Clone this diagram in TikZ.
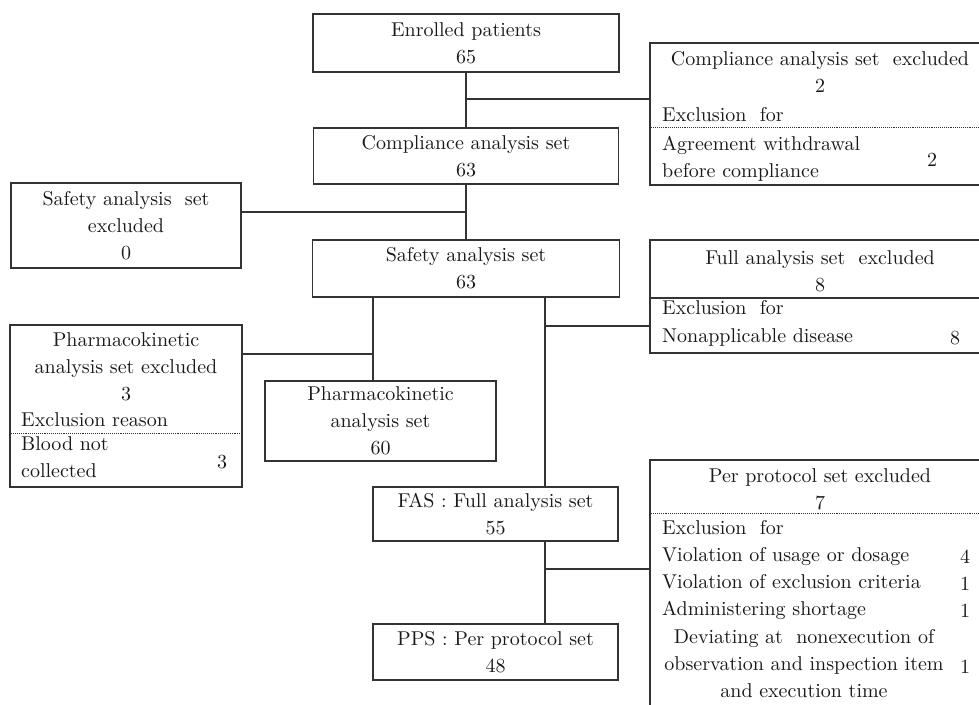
\documentclass[tikz,border=0pt]{standalone}
\usepackage{fontspec}
\setmainfont{lmroman10-regular.otf}
\usepackage{tikz}
\usetikzlibrary{positioning}

\begin{document}
\begin{tikzpicture}[x=1pt,y=-1pt,
box/.style={draw=black!80,line width=1.3pt,rectangle,inner sep=0pt,align=center,
    font=\fontsize{20}{27}\selectfont,text=black!90},
exbox/.style={draw=black!80,line width=1.3pt,rectangle,inner sep=0pt},
txt/.style={inner sep=0pt,font=\fontsize{20}{27}\selectfont,text=black!90},
link/.style={draw=black!80,line width=1.3pt},
rule/.style={draw=black!80,line width=0.9pt,densely dotted}]
\useasboundingbox (0,0) rectangle (979,704);
\clip (0,0) rectangle (979,704);

% main column
\node (enr) [box,minimum width=306pt,minimum height=58pt] at (466,43) {Enrolled patients\\65};
\node (cas) [box,minimum width=305pt,minimum height=56pt] at (466,156) {Compliance analysis set\\63};
\node (sas) [box,minimum width=307pt,minimum height=57pt] at (466,268.5) {Safety analysis set\\63};
\node (pks) [box,minimum width=231pt,minimum height=80pt] at (380.5,421) {Pharmacokinetic\\analysis set\\60};
\node (fas) [box,minimum width=245pt,minimum height=54pt] at (495.5,514) {FAS : Full analysis set\\55};
\node (pps) [box,minimum width=245pt,minimum height=56pt] at (495.5,652) {PPS : Per protocol set\\48};

% left side
\node (sasx) [box,minimum width=230pt,minimum height=85pt] at (126,225.5) {Safety analysis\ \ set\\excluded\\0};
\node (pksx) [exbox,minimum width=232pt,minimum height=162pt] at (126,406) {};
\node (pksxhead) [txt,align=center] at (126,367) {Pharmacokinetic\\analysis set excluded\\3};
\node (pksxfor) [txt,anchor=west] at (21,419.3) {Exclusion reason};
\coordinate (pksxcut) at (10,433);
\draw [rule] (pksxcut -| pksx.west) -- (pksxcut -| pksx.east);
\node (pksxwhy) [txt,anchor=west,align=left] at (21,457) {Blood not\\collected};
\node (pksxnum) [txt] at (222,462) {3};

% right side
\node (casx) [exbox,minimum width=340pt,minimum height=142pt] at (820,114) {};
\node (casxhead) [txt,align=center] at (820,72) {Compliance analysis set\ \ excluded\\2};
\node (casxfor) [txt,anchor=west] at (662,114.5) {Exclusion\ \ for};
\coordinate (casxcut) at (650,127);
\draw [rule] (casxcut -| casx.west) -- (casxcut -| casx.east);
\node (casxwhy) [txt,anchor=west,align=left] at (662,159) {Agreement withdrawal\\before compliance};
\node (casxnum) [txt] at (932,160) {2};

\node (fasx) [exbox,minimum width=340pt,minimum height=113pt] at (820,296.5) {};
\node (fasxhead) [txt,align=center] at (820,271) {Full analysis set\ \ excluded\\8};
\coordinate (fasxcut) at (650,298);
\draw [link] (fasxcut -| fasx.west) -- (fasxcut -| fasx.east);
\node (fasxfor) [txt,anchor=west] at (662,308) {Exclusion\ \ for};
\node (fasxwhy) [txt,anchor=west] at (662,337) {Nonapplicable disease};
\node (fasxnum) [txt] at (955,338) {8};

\node (ppsx) [exbox,minimum width=340pt,minimum height=280pt] at (820,600) {};
\node (ppsxhead) [txt,align=center] at (820,489) {Per protocol set excluded\\7};
\coordinate (ppsxcut) at (650,513);
\draw [rule] (ppsxcut -| ppsx.west) -- (ppsxcut -| ppsx.east);
\node (ppsxwhy) [txt,anchor=west,align=left] at (662,570) {Exclusion\ \ for\\Violation of usage or dosage\\Violation of exclusion criteria\\Administering shortage};
\node (ppsxnum) [txt,align=center] at (965,584) {4\\1\\1};
\node (ppsxdev) [txt,align=center] at (804,664) {Deviating at\ \ nonexecution of\\observation and inspection item\\and execution time};
\node (ppsxdevnum) [txt] at (965,667) {1};

% connectors
\draw [link] (enr.south) -- (cas.north);
\coordinate (cut1) at (466,99);
\draw [link] (cut1) -- (cut1 -| casx.west);
\draw [link] (cas.south) -- (sas.north);
\coordinate (cut2) at (466,212);
\draw [link] (cut2) -- (cut2 -| sasx.east);
\coordinate (cut3) at (373,354);
\draw [link] (sas.south -| cut3) -- (pks.north -| cut3);
\draw [link] (cut3) -- (cut3 -| pksx.east);
\coordinate (cut4) at (545,326);
\draw [link] (sas.south -| cut4) -- (fas.north -| cut4);
\draw [link] (cut4) -- (cut4 -| fasx.west);
\coordinate (cut5) at (545,569);
\draw [link] (fas.south -| cut5) -- (pps.north -| cut5);
\draw [link] (cut5) -- (cut5 -| ppsx.west);
\end{tikzpicture}
\end{document}
